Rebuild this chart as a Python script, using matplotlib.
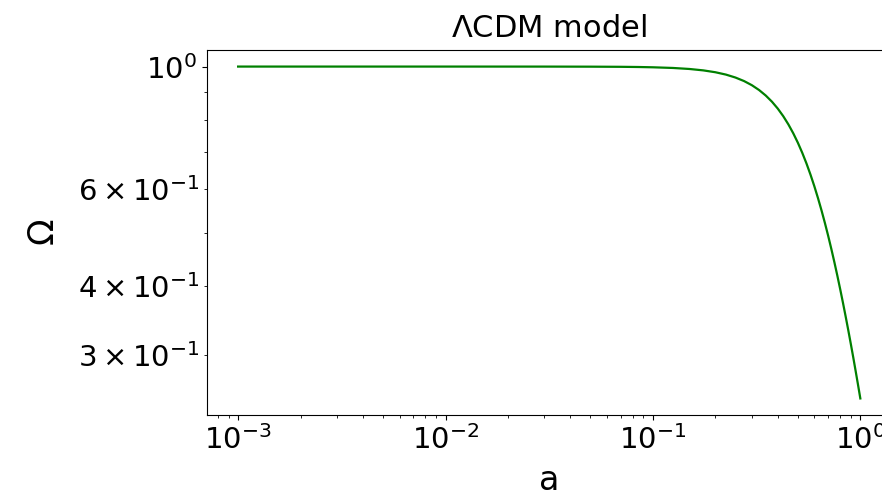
import numpy as np
import matplotlib
matplotlib.use("Agg")
import matplotlib.pyplot as plt

# scale factor a and matter density parameter Omega
a_vals = [0.001, 0.01, 0.03, 0.05, 0.07, 0.085, 0.1, 0.125, 0.15, 0.175,
          0.2, 0.225, 0.25, 0.275, 0.3, 0.325, 0.35, 0.375, 0.4, 0.425,
          0.45, 0.475, 0.5, 0.525, 0.55, 0.575, 0.6, 0.625, 0.65, 0.675,
          0.7, 0.725, 0.75, 0.775, 0.8, 0.825, 0.85, 0.875, 0.9, 0.925,
          0.95, 0.975, 1.0]
omega_vals = [1.0, 1.0, 0.9999, 0.9996, 0.999, 0.9982, 0.997, 0.9942,
              0.990, 0.9842, 0.9766, 0.967, 0.9552, 0.9413, 0.9251, 0.9066,
              0.886, 0.8634, 0.8389, 0.8128, 0.7853, 0.7567, 0.7273, 0.6973,
              0.6671, 0.6368, 0.6068, 0.5772, 0.5483, 0.5201, 0.4929, 0.4666,
              0.4414, 0.4173, 0.3943, 0.3725, 0.3518, 0.3323, 0.3138, 0.2964,
              0.2799, 0.2645, 0.250]

title = r"$\Lambda$CDM model"
xlabel = "a"
ylabel = r"$\Omega$"

fig = plt.figure(figsize=(8.82, 4.90), dpi=100)
# axes run past the right edge, as in the reference crop
ax = fig.add_axes([0.2347, 0.153, 0.776, 0.745])

ax.plot(a_vals, omega_vals, color="g", lw=1.6)
ax.set_xscale("log")
ax.set_yscale("log")

ax.set_title(title, fontsize=22, pad=9)
ax.set_xlabel(xlabel, fontsize=24, labelpad=7)
ax.set_ylabel(ylabel, fontsize=25, labelpad=12)
ax.tick_params(axis="both", which="both", labelsize=21)

fig.savefig("out.png", dpi=100)
